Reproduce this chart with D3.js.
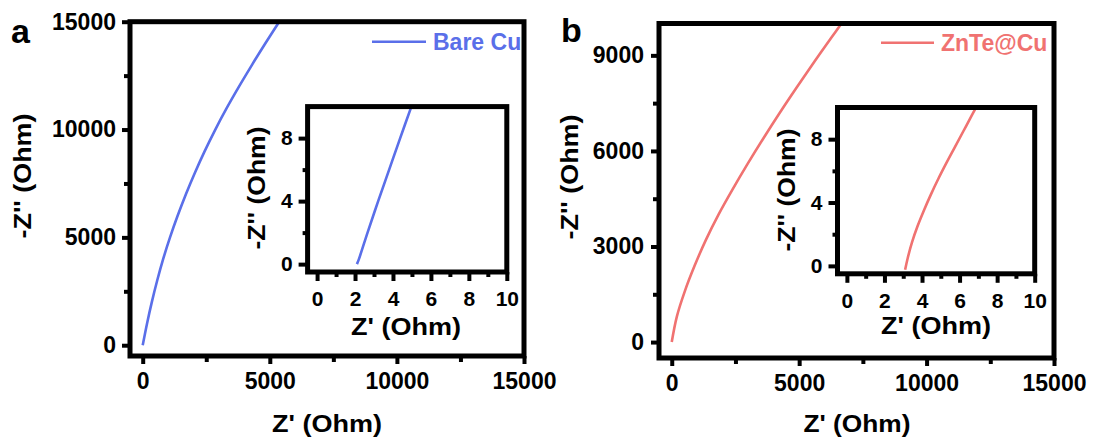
<!DOCTYPE html>
<html><head><meta charset="utf-8">
<script src="https://cdn.jsdelivr.net/npm/d3@7/dist/d3.min.js"></script>
<style>
html,body{margin:0;padding:0;background:#fff;}
svg{display:block;font-family:"Liberation Sans",Arial,sans-serif;font-weight:bold;}
</style></head>
<body>
<svg id="chart" width="1095" height="443"></svg>
<script>
// ---------- data ----------
const panelLabels = ["a", "b"];
const seriesNames = ["Bare Cu", "ZnTe@Cu"];
const seriesColors = ["#5a6fe9", "#f07271"];

// main Nyquist curves (Ohm)
const bareCuX = [0, 169, 358, 570, 806, 1074, 1373, 1699, 2054, 2439, 2856, 3308, 3792, 4300, 4827, 5370];
const bareCuY = [0, 1000, 2000, 3000, 4000, 5000, 6000, 7000, 8000, 9000, 10000, 11000, 12000, 13000, 14000, 15000];
const znteCuX = [0, 200, 515, 900, 1336, 1835, 2393, 2982, 3599, 4240, 4908, 5595, 6302, 6660];
const znteCuY = [0, 800, 1600, 2400, 3200, 4000, 4800, 5600, 6400, 7200, 8000, 8800, 9600, 10000];

// inset (high-frequency zoom) curves (Ohm)
const bareCuInsetX = [2.1, 2.2, 2.66, 3.22, 3.8, 4.38, 4.97];
const bareCuInsetY = [0, 0.3, 2, 4, 6, 8, 10];
const znteCuInsetX = [3.1, 3.24, 3.47, 3.76, 4.1, 4.47, 4.87, 5.3, 5.75, 6.2, 6.65, 6.88];
const znteCuInsetY = [-0.25, 0.5, 1.5, 2.5, 3.5, 4.5, 5.5, 6.5, 7.5, 8.5, 9.5, 10];

// ticks
const mainXTicks = [0, 5000, 10000, 15000];
const mainXMinor = [2500, 7500, 12500];
const mainYTicksA = [0, 5000, 10000, 15000];
const mainYMinorA = [2500, 7500, 12500];
const mainYTicksB = [0, 3000, 6000, 9000];
const mainYMinorB = [1500, 4500, 7500];
const insetXTicks = [0, 2, 4, 6, 8, 10];
const insetXMinor = [1, 3, 5, 7, 9];
const insetYTicks = [0, 4, 8];
const insetYMinor = [2, 6];

const xTitle = "Z' (Ohm)";
const yTitle = "-Z'' (Ohm)";

// ---------- layout ----------
const svg = d3.select("#chart");
const panels = [
  { label: panelLabels[0], name: seriesNames[0], color: seriesColors[0],
    x: bareCuX, y: bareCuY, ix: bareCuInsetX, iy: bareCuInsetY,
    xDom: [-500, 15000], yDom: [-500, 15000], yTicks: mainYTicksA, yMinor: mainYMinorA,
    box: { l: 130, r: 524, t: 21.7, b: 356 },
    inset: { l: 307.6, r: 506.8, t: 106.6, b: 272 },
    labelPos: [11, 43],
    legend: { x1: 372, x2: 426, y: 41.7, tx: 433 },
    xTitlePos: [327, 432, 110], yTitlePos: [31, 176, 125],
    ixTitlePos: [406, 335, 110], iyTitlePos: [265, 188, 123],
    yPad: 6 },
  { label: panelLabels[1], name: seriesNames[1], color: seriesColors[1],
    x: znteCuX, y: znteCuY, ix: znteCuInsetX, iy: znteCuInsetY,
    xDom: [-500, 15000], yDom: [-500, 10000], yTicks: mainYTicksB, yMinor: mainYMinorB,
    box: { l: 659, r: 1054, t: 23.5, b: 358 },
    inset: { l: 837.5, r: 1034.7, t: 107.5, b: 273.8 },
    labelPos: [561, 42],
    legend: { x1: 881, x2: 934, y: 42.7, tx: 941 },
    xTitlePos: [857, 432, 107], yTitlePos: [578, 177, 125],
    ixTitlePos: [936, 334, 110], iyTitlePos: [795, 190, 123],
    yPad: 7 }
];

function styleAxis(g, fs) {
  g.select(".domain").remove();
  g.selectAll(".tick line").attr("stroke", "#000").attr("stroke-width", 4);
  g.selectAll(".tick text").attr("fill", "#000").style("font-size", fs + "px").style("font-weight", "bold");
}

panels.forEach((p, i) => {
  const B = p.box, I = p.inset;
  const xs = d3.scaleLinear().domain(p.xDom).range([B.l, B.r]);
  const ys = d3.scaleLinear().domain(p.yDom).range([B.b, B.t]);

  const clipId = "clip" + i;
  svg.append("clipPath").attr("id", clipId).append("rect")
    .attr("x", B.l).attr("y", B.t).attr("width", B.r - B.l).attr("height", B.b - B.t);

  // minor ticks
  svg.append("g").attr("transform", `translate(0,${B.b})`)
    .call(d3.axisBottom(xs).tickValues(mainXMinor).tickSize(6).tickFormat(""))
    .call(g => styleAxis(g, 23));
  svg.append("g").attr("transform", `translate(${B.l},0)`)
    .call(d3.axisLeft(ys).tickValues(p.yMinor).tickSize(6).tickFormat(""))
    .call(g => styleAxis(g, 23));
  // major ticks
  svg.append("g").attr("transform", `translate(0,${B.b})`)
    .call(d3.axisBottom(xs).tickValues(mainXTicks).tickSize(8).tickPadding(9).tickFormat(d3.format("d")))
    .call(g => styleAxis(g, 23));
  svg.append("g").attr("transform", `translate(${B.l},0)`)
    .call(d3.axisLeft(ys).tickValues(p.yTicks).tickSize(8).tickPadding(p.yPad).tickFormat(d3.format("d")))
    .call(g => styleAxis(g, 23));

  // main curve
  const pts = p.x.map((v, k) => [v, p.y[k]]);
  const line = d3.line().x(d => xs(d[0])).y(d => ys(d[1])).curve(d3.curveCatmullRom);
  svg.append("path").attr("d", line(pts)).attr("fill", "none")
    .attr("stroke", p.color).attr("stroke-width", 2.6).attr("clip-path", `url(#${clipId})`);

  // legend
  svg.append("line").attr("x1", p.legend.x1).attr("x2", p.legend.x2)
    .attr("y1", p.legend.y).attr("y2", p.legend.y)
    .attr("stroke", p.color).attr("stroke-width", 2.6);
  svg.append("text").attr("x", p.legend.tx).attr("y", p.legend.y + 8.3)
    .attr("fill", p.color).style("font-size", "23px").text(p.name)
    .attr("clip-path", `url(#${clipId})`);

  // frame
  svg.append("rect").attr("x", B.l).attr("y", B.t).attr("width", B.r - B.l).attr("height", B.b - B.t)
    .attr("fill", "none").attr("stroke", "#000").attr("stroke-width", 5);

  // titles
  svg.append("text").attr("x", p.xTitlePos[0]).attr("y", p.xTitlePos[1]).attr("text-anchor", "middle")
    .attr("textLength", p.xTitlePos[2]).attr("lengthAdjust", "spacingAndGlyphs")
    .style("font-size", "23px").text(xTitle);
  svg.append("text").attr("transform", `translate(${p.yTitlePos[0]},${p.yTitlePos[1]}) rotate(-90)`)
    .attr("text-anchor", "middle").attr("textLength", p.yTitlePos[2]).attr("lengthAdjust", "spacingAndGlyphs")
    .style("font-size", "23px").text(yTitle);

  // panel label
  svg.append("text").attr("x", p.labelPos[0]).attr("y", p.labelPos[1])
    .style("font-size", "34px").text(p.label);

  // ---------- inset ----------
  const ixs = d3.scaleLinear().domain([-0.5, 10]).range([I.l, I.r]);
  const iys = d3.scaleLinear().domain([-0.5, 10]).range([I.b, I.t]);
  svg.append("rect").attr("x", I.l).attr("y", I.t).attr("width", I.r - I.l).attr("height", I.b - I.t)
    .attr("fill", "#fff");
  const iclip = "iclip" + i;
  svg.append("clipPath").attr("id", iclip).append("rect")
    .attr("x", I.l).attr("y", I.t).attr("width", I.r - I.l).attr("height", I.b - I.t);

  svg.append("g").attr("transform", `translate(0,${I.b})`)
    .call(d3.axisBottom(ixs).tickValues(insetXMinor).tickSize(5).tickFormat(""))
    .call(g => styleAxis(g, 21));
  svg.append("g").attr("transform", `translate(${I.l},0)`)
    .call(d3.axisLeft(iys).tickValues(insetYMinor).tickSize(5).tickFormat(""))
    .call(g => styleAxis(g, 21));
  svg.append("g").attr("transform", `translate(0,${I.b})`)
    .call(d3.axisBottom(ixs).tickValues(insetXTicks).tickSize(9).tickPadding(10).tickFormat(d3.format("d")))
    .call(g => styleAxis(g, 21));
  svg.append("g").attr("transform", `translate(${I.l},0)`)
    .call(d3.axisLeft(iys).tickValues(insetYTicks).tickSize(9).tickPadding(6).tickFormat(d3.format("d")))
    .call(g => styleAxis(g, 21));

  const ipts = p.ix.map((v, k) => [v, p.iy[k]]);
  const iline = d3.line().x(d => ixs(d[0])).y(d => iys(d[1])).curve(d3.curveCatmullRom);
  svg.append("path").attr("d", iline(ipts)).attr("fill", "none")
    .attr("stroke", p.color).attr("stroke-width", 2.6).attr("clip-path", `url(#${iclip})`);

  svg.append("rect").attr("x", I.l).attr("y", I.t).attr("width", I.r - I.l).attr("height", I.b - I.t)
    .attr("fill", "none").attr("stroke", "#000").attr("stroke-width", 5);

  svg.append("text").attr("x", p.ixTitlePos[0]).attr("y", p.ixTitlePos[1]).attr("text-anchor", "middle")
    .attr("textLength", p.ixTitlePos[2]).attr("lengthAdjust", "spacingAndGlyphs")
    .style("font-size", "23px").text(xTitle);
  svg.append("text").attr("transform", `translate(${p.iyTitlePos[0]},${p.iyTitlePos[1]}) rotate(-90)`)
    .attr("text-anchor", "middle").attr("textLength", p.iyTitlePos[2]).attr("lengthAdjust", "spacingAndGlyphs")
    .style("font-size", "23px").text(yTitle);
});
</script>
</body></html>
